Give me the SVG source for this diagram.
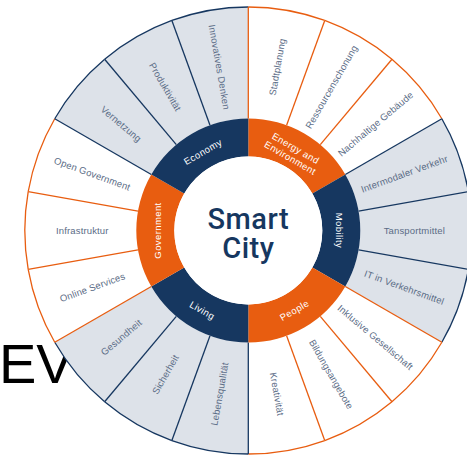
<svg xmlns="http://www.w3.org/2000/svg" width="467" height="458" viewBox="0 0 467 458">
<style>
.w{fill:#ffffff}
.g{fill:#dde2e9}
.ao{fill:none;stroke:#e85d10;stroke-width:1.3}
.an{fill:none;stroke:#163760;stroke-width:1.3}
.lo{fill:none;stroke:#e85d10;stroke-width:1.3}
.ln{fill:none;stroke:#163760;stroke-width:1.3}
.ro{fill:#e85d10}
.rn{fill:#163760}
.lbl{font-family:"Liberation Sans",Arial,sans-serif;font-size:9.5px;fill:#5b6c86;text-anchor:middle;dominant-baseline:central;letter-spacing:0.15px}
.rl{font-family:"Liberation Sans",Arial,sans-serif;font-size:9.5px;fill:#ffffff;text-anchor:middle;dominant-baseline:central;letter-spacing:0.4px}
.ct{font-family:Roboto,"Liberation Sans",Arial,sans-serif;font-size:29px;font-weight:500;fill:#163760;text-anchor:middle;letter-spacing:0.5px}
</style>
<defs>
<path id="wedge" d="M0,-112 L0,-223.5 A223.5 223.5 0 0 1 76.441,-210.021 L38.306,-105.245 A112 112 0 0 0 0,-112 Z"/>
<path id="arc" d="M0,-223.5 A223.5 223.5 0 0 1 76.441,-210.021"/>
<path id="rad" d="M0,-112 L0,-223.5"/>
<path id="ring" d="M0,-74 L0,-112 A112 112 0 0 1 96.995,-56 L64.086,-37 A74 74 0 0 0 0,-74 Z"/>
</defs>
<text id="bgtext" x="-1" y="383" font-family="Liberation Sans, Arial, sans-serif" font-size="56" fill="#000000">EV</text>
<g transform="translate(248.3 230.5)">
<g id="outer-segments">
<g id="seg-stadtplanung"><use href="#wedge" class="w"/><use href="#arc" class="ao"/><text class="lbl" transform="rotate(10) translate(0 -166) rotate(-90)">Stadtplanung</text></g>
<g id="seg-ressourcenschonung"><use href="#wedge" class="w" transform="rotate(20)"/><use href="#arc" class="ao" transform="rotate(20)"/><text class="lbl" transform="rotate(30) translate(0 -166) rotate(-90)">Ressourcenschonung</text></g>
<g id="seg-nachhaltige-gebaeude"><use href="#wedge" class="w" transform="rotate(40)"/><use href="#arc" class="ao" transform="rotate(40)"/><text class="lbl" transform="rotate(50) translate(0 -166) rotate(-90)">Nachhaltige Gebäude</text></g>
<g id="seg-intermodaler-verkehr"><use href="#wedge" class="g" transform="rotate(60)"/><use href="#arc" class="an" transform="rotate(60)"/><text class="lbl" transform="rotate(70) translate(0 -166) rotate(-90)">Intermodaler Verkehr</text></g>
<g id="seg-tansportmittel"><use href="#wedge" class="g" transform="rotate(80)"/><use href="#arc" class="an" transform="rotate(80)"/><text class="lbl" transform="rotate(90) translate(0 -166) rotate(-90)">Tansportmittel</text></g>
<g id="seg-it-verkehrsmittel"><use href="#wedge" class="g" transform="rotate(100)"/><use href="#arc" class="an" transform="rotate(100)"/><text class="lbl" transform="rotate(110) translate(0 -166) rotate(-90)">IT in Verkehrsmittel</text></g>
<g id="seg-inklusive-gesellschaft"><use href="#wedge" class="w" transform="rotate(120)"/><use href="#arc" class="ao" transform="rotate(120)"/><text class="lbl" transform="rotate(130) translate(0 -166) rotate(-90)">Inklusive Gesellschaft</text></g>
<g id="seg-bildungsangebote"><use href="#wedge" class="w" transform="rotate(140)"/><use href="#arc" class="ao" transform="rotate(140)"/><text class="lbl" transform="rotate(150) translate(0 -166) rotate(-90)">Bildungsangebote</text></g>
<g id="seg-kreativitaet"><use href="#wedge" class="w" transform="rotate(160)"/><use href="#arc" class="ao" transform="rotate(160)"/><text class="lbl" transform="rotate(170) translate(0 -166) rotate(-90)">Kreativität</text></g>
<g id="seg-lebensqualitaet"><use href="#wedge" class="g" transform="rotate(180)"/><use href="#arc" class="an" transform="rotate(180)"/><text class="lbl" transform="rotate(190) translate(0 -166) rotate(90)">Lebensqualität</text></g>
<g id="seg-sicherheit"><use href="#wedge" class="g" transform="rotate(200)"/><use href="#arc" class="an" transform="rotate(200)"/><text class="lbl" transform="rotate(210) translate(0 -166) rotate(90)">Sicherheit</text></g>
<g id="seg-gesundheit"><use href="#wedge" class="g" transform="rotate(220)"/><use href="#arc" class="an" transform="rotate(220)"/><text class="lbl" transform="rotate(230) translate(0 -166) rotate(90)">Gesundheit</text></g>
<g id="seg-online-services"><use href="#wedge" class="w" transform="rotate(240)"/><use href="#arc" class="ao" transform="rotate(240)"/><text class="lbl" transform="rotate(250) translate(0 -166) rotate(90)">Online Services</text></g>
<g id="seg-infrastruktur"><use href="#wedge" class="w" transform="rotate(260)"/><use href="#arc" class="ao" transform="rotate(260)"/><text class="lbl" transform="rotate(270) translate(0 -166) rotate(90)">Infrastruktur</text></g>
<g id="seg-open-government"><use href="#wedge" class="w" transform="rotate(280)"/><use href="#arc" class="ao" transform="rotate(280)"/><text class="lbl" transform="rotate(290) translate(0 -166) rotate(90)">Open Government</text></g>
<g id="seg-vernetzung"><use href="#wedge" class="g" transform="rotate(300)"/><use href="#arc" class="an" transform="rotate(300)"/><text class="lbl" transform="rotate(310) translate(0 -166) rotate(90)">Vernetzung</text></g>
<g id="seg-produktivitaet"><use href="#wedge" class="g" transform="rotate(320)"/><use href="#arc" class="an" transform="rotate(320)"/><text class="lbl" transform="rotate(330) translate(0 -166) rotate(90)">Produktivität</text></g>
<g id="seg-innovatives-denken"><use href="#wedge" class="g" transform="rotate(340)"/><use href="#arc" class="an" transform="rotate(340)"/><text class="lbl" transform="rotate(350) translate(0 -166) rotate(90)">Innovatives Denken</text></g>
</g>
<g id="connectors">
<use href="#rad" class="lo" transform="rotate(0)"/>
<use href="#rad" class="lo" transform="rotate(20)"/>
<use href="#rad" class="lo" transform="rotate(40)"/>
<use href="#rad" class="ln" transform="rotate(60)"/>
<use href="#rad" class="ln" transform="rotate(80)"/>
<use href="#rad" class="ln" transform="rotate(100)"/>
<use href="#rad" class="lo" transform="rotate(120)"/>
<use href="#rad" class="lo" transform="rotate(140)"/>
<use href="#rad" class="lo" transform="rotate(160)"/>
<use href="#rad" class="ln" transform="rotate(180)"/>
<use href="#rad" class="ln" transform="rotate(200)"/>
<use href="#rad" class="ln" transform="rotate(220)"/>
<use href="#rad" class="lo" transform="rotate(240)"/>
<use href="#rad" class="lo" transform="rotate(260)"/>
<use href="#rad" class="lo" transform="rotate(280)"/>
<use href="#rad" class="ln" transform="rotate(300)"/>
<use href="#rad" class="ln" transform="rotate(320)"/>
<use href="#rad" class="ln" transform="rotate(340)"/>
</g>
<g id="ring-energy"><use href="#ring" class="ro"/><text class="rl" transform="rotate(30) translate(0 -95)">Energy and</text><text class="rl" transform="rotate(30) translate(0 -84)">Environment</text></g>
<g id="ring-mobility"><use href="#ring" class="rn" transform="rotate(60)"/><text class="rl" transform="rotate(90) translate(0 -91)">Mobility</text></g>
<g id="ring-people"><use href="#ring" class="ro" transform="rotate(120)"/><text class="rl" transform="rotate(150) translate(0 -92) rotate(180)">People</text></g>
<g id="ring-living"><use href="#ring" class="rn" transform="rotate(180)"/><text class="rl" transform="rotate(210) translate(0 -92) rotate(180)">Living</text></g>
<g id="ring-government"><use href="#ring" class="ro" transform="rotate(240)"/><text class="rl" transform="rotate(270) translate(0 -91)">Government</text></g>
<g id="ring-economy"><use href="#ring" class="rn" transform="rotate(300)"/><text class="rl" transform="rotate(330) translate(0 -91)">Economy</text></g>
<g id="center">
<circle r="74" fill="#ffffff"/>
<text class="ct"><tspan x="0" y="-2">Smart</tspan><tspan x="0" y="27.5">City</tspan></text>
</g>
</g>
</svg>
